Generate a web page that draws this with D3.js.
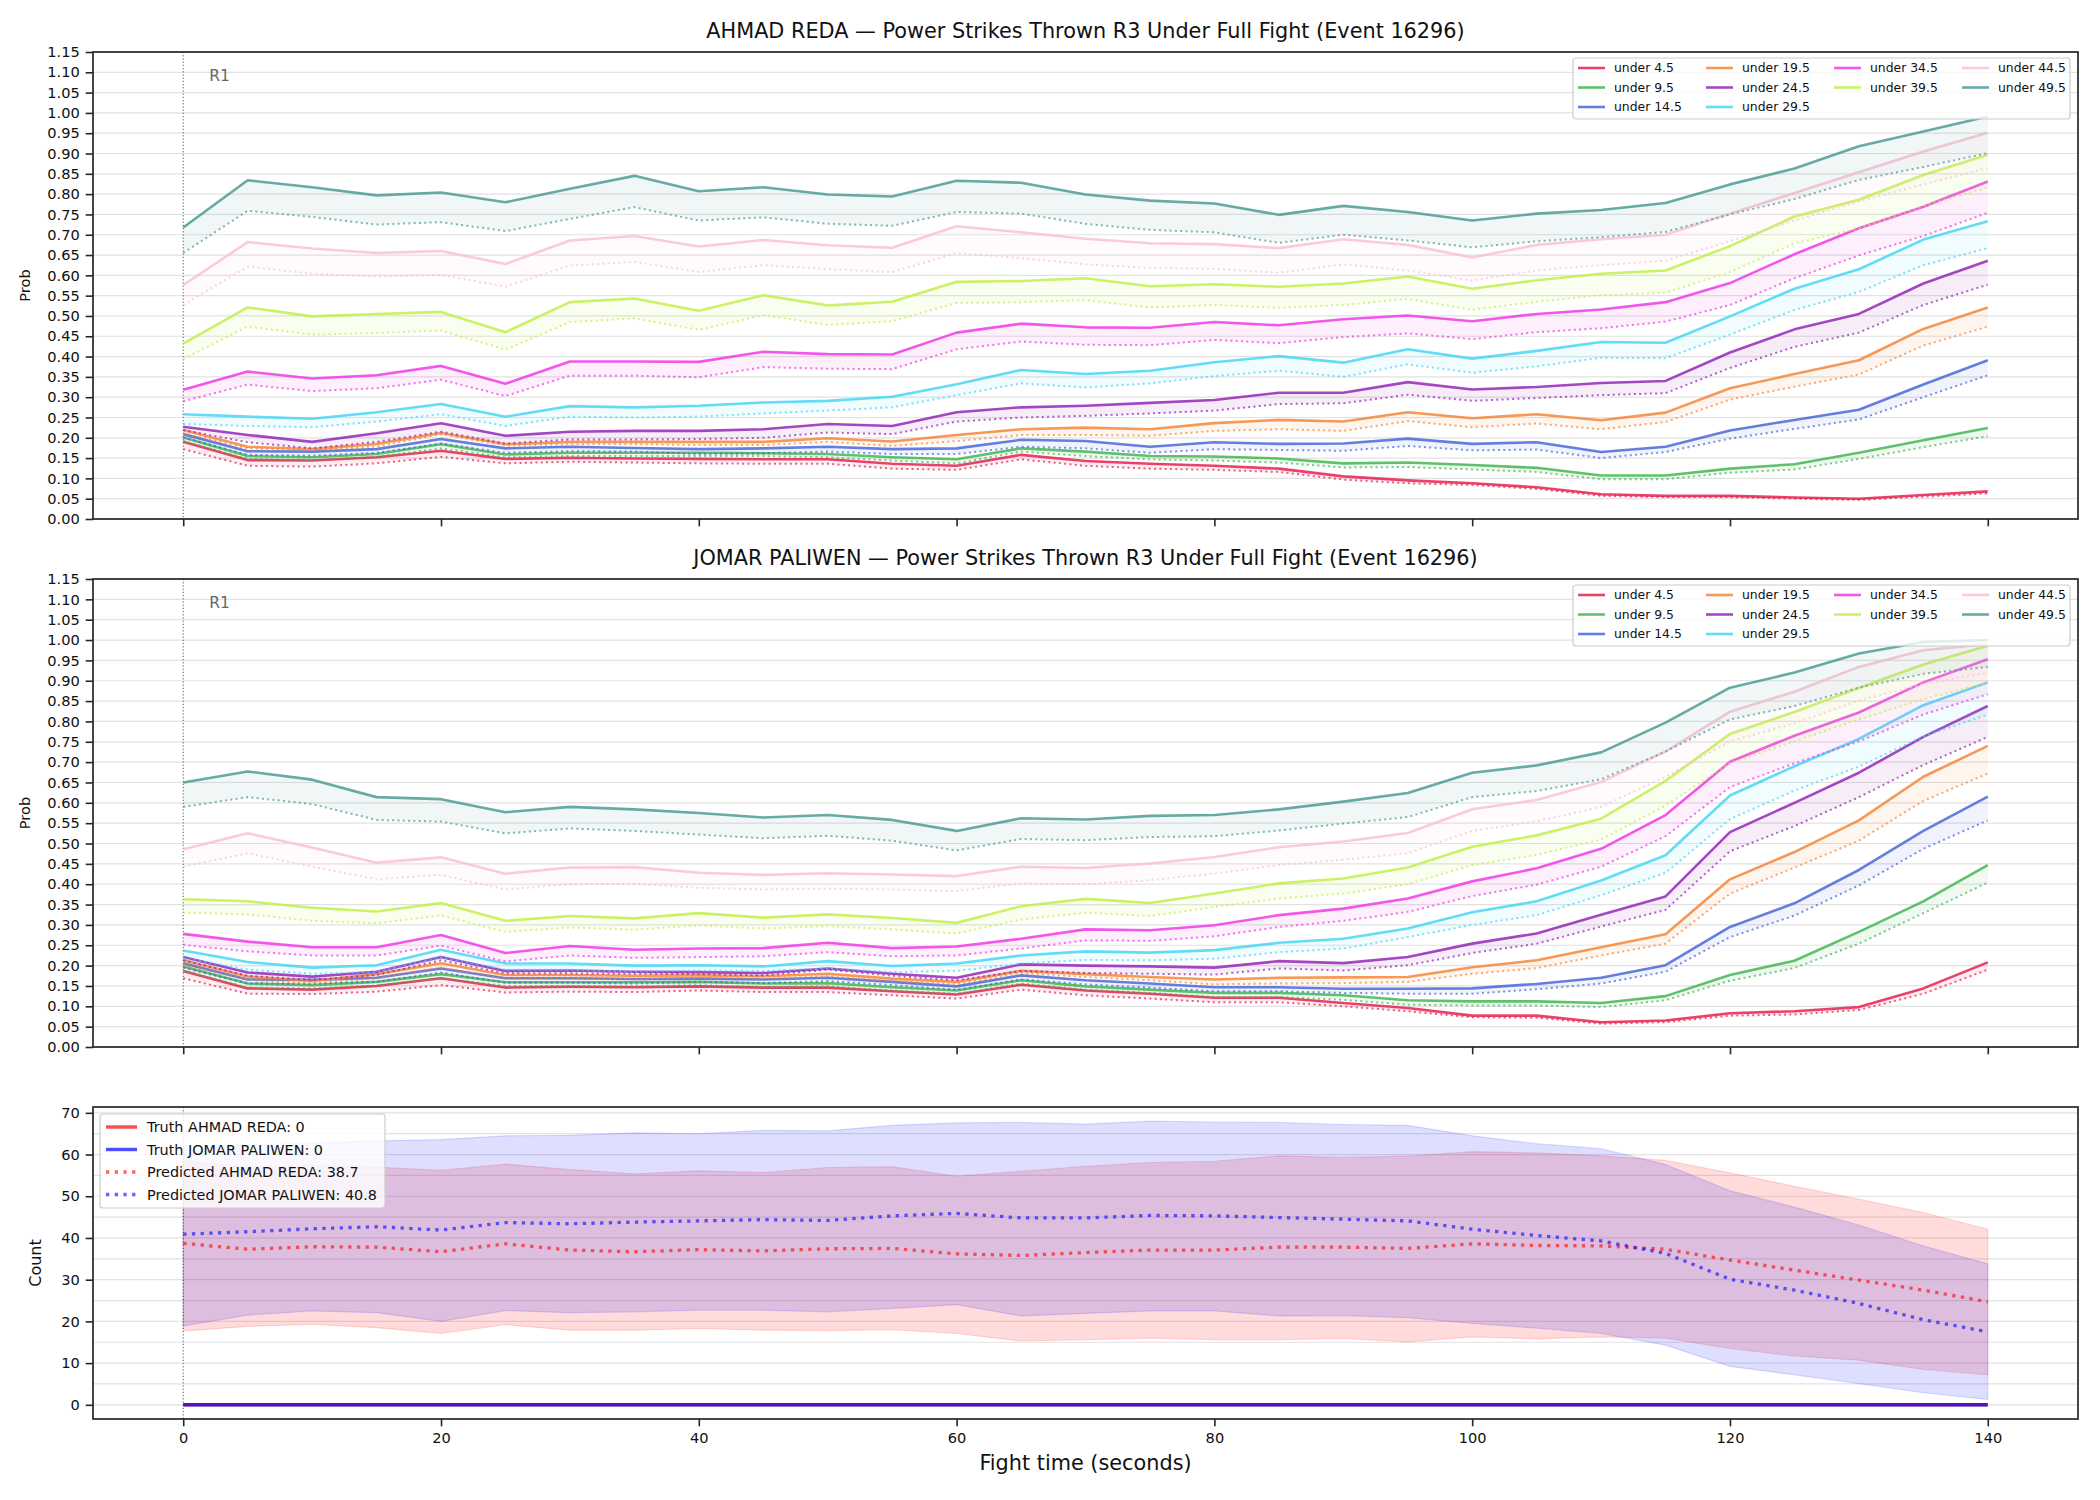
<!DOCTYPE html>
<html><head><meta charset="utf-8">
<script src="https://cdn.jsdelivr.net/npm/d3@7"></script>
<style>body{margin:0;background:#fff} svg{display:block} text{font-family:"DejaVu Sans",sans-serif}</style>
</head><body><svg id="chart" width="2100" height="1500"></svg>
<script>
// ---------------- DATA ----------------
const times = [0,5,10,15,20,25,30,35,40,45,50,55,60,65,70,75,80,85,90,95,100,105,110,115,120,125,130,135,140];
const thresholds = ["under 4.5","under 9.5","under 14.5","under 19.5","under 24.5","under 29.5","under 34.5","under 39.5","under 44.5","under 49.5"];
const thresholdColors = ["#e6194b","#3cb44b","#4363d8","#f58231","#911eb4","#42d4f4","#f032e6","#bfef45","#fabed4","#469990"];
const probTicks = [0,0.05,0.10,0.15,0.20,0.25,0.30,0.35,0.40,0.45,0.50,0.55,0.60,0.65,0.70,0.75,0.80,0.85,0.90,0.95,1.00,1.05,1.10,1.15];
const timeTicks = [0,20,40,60,80,100,120,140];
const countTicks = [0,10,20,30,40,50,60,70];
const countGrid = [0,5,10,15,20,25,30,35,40,45,50,55,60,65,70];

// AHMAD REDA — solid lines
const redaSolid_u4_5  = [0.190,0.145,0.144,0.152,0.168,0.148,0.151,0.149,0.148,0.147,0.147,0.136,0.131,0.158,0.143,0.136,0.131,0.124,0.105,0.095,0.088,0.078,0.061,0.057,0.057,0.053,0.050,0.059,0.068];
const redaSolid_u9_5  = [0.201,0.155,0.152,0.160,0.184,0.159,0.163,0.163,0.163,0.162,0.160,0.152,0.147,0.174,0.166,0.155,0.154,0.149,0.137,0.139,0.133,0.126,0.107,0.107,0.124,0.135,0.163,0.194,0.224];
const redaSolid_u14_5 = [0.209,0.167,0.166,0.172,0.197,0.174,0.178,0.175,0.172,0.174,0.178,0.172,0.174,0.195,0.192,0.178,0.189,0.185,0.186,0.198,0.185,0.189,0.165,0.178,0.218,0.244,0.269,0.331,0.391];
const redaSolid_u19_5 = [0.219,0.178,0.172,0.185,0.212,0.184,0.190,0.190,0.190,0.190,0.199,0.191,0.207,0.221,0.225,0.221,0.236,0.244,0.240,0.263,0.248,0.258,0.243,0.262,0.322,0.357,0.391,0.468,0.521];
const redaSolid_u24_5 = [0.227,0.207,0.190,0.211,0.236,0.205,0.215,0.217,0.217,0.221,0.234,0.229,0.263,0.275,0.279,0.286,0.293,0.311,0.311,0.337,0.319,0.325,0.335,0.340,0.410,0.467,0.505,0.580,0.636];
const redaSolid_u29_5 = [0.258,0.252,0.247,0.263,0.283,0.252,0.278,0.275,0.279,0.287,0.291,0.301,0.332,0.367,0.357,0.365,0.386,0.401,0.385,0.418,0.395,0.414,0.436,0.434,0.499,0.567,0.615,0.688,0.733];
const redaSolid_u34_5 = [0.318,0.363,0.346,0.354,0.377,0.333,0.388,0.388,0.387,0.412,0.406,0.405,0.459,0.481,0.472,0.471,0.485,0.477,0.492,0.501,0.487,0.505,0.516,0.534,0.581,0.652,0.716,0.769,0.831];
const redaSolid_u39_5 = [0.432,0.521,0.499,0.505,0.510,0.460,0.534,0.543,0.513,0.551,0.526,0.535,0.584,0.586,0.593,0.573,0.578,0.572,0.580,0.597,0.567,0.588,0.604,0.612,0.672,0.745,0.786,0.847,0.897];
const redaSolid_u44_5 = [0.576,0.682,0.666,0.655,0.660,0.628,0.686,0.697,0.671,0.687,0.674,0.668,0.721,0.706,0.690,0.679,0.677,0.667,0.689,0.675,0.644,0.675,0.689,0.700,0.752,0.803,0.854,0.905,0.951];
const redaSolid_u49_5 = [0.718,0.834,0.817,0.797,0.804,0.780,0.813,0.845,0.807,0.817,0.799,0.794,0.833,0.828,0.799,0.784,0.777,0.749,0.771,0.756,0.735,0.752,0.761,0.778,0.824,0.863,0.918,0.954,0.991];
// AHMAD REDA — dotted lines
const redaDotted_u4_5  = [0.172,0.131,0.129,0.137,0.153,0.137,0.141,0.139,0.137,0.136,0.136,0.124,0.121,0.147,0.131,0.124,0.121,0.116,0.097,0.088,0.084,0.074,0.057,0.054,0.054,0.050,0.047,0.055,0.063];
const redaDotted_u9_5  = [0.192,0.148,0.145,0.153,0.174,0.152,0.155,0.155,0.155,0.155,0.152,0.144,0.137,0.166,0.155,0.147,0.144,0.139,0.127,0.128,0.122,0.116,0.098,0.098,0.114,0.122,0.148,0.177,0.204];
const redaDotted_u14_5 = [0.201,0.158,0.156,0.163,0.186,0.163,0.167,0.166,0.160,0.162,0.166,0.160,0.160,0.178,0.174,0.163,0.172,0.170,0.168,0.180,0.169,0.171,0.150,0.165,0.198,0.222,0.245,0.300,0.354];
const redaDotted_u19_5 = [0.211,0.174,0.170,0.178,0.209,0.181,0.184,0.184,0.182,0.182,0.190,0.180,0.192,0.207,0.207,0.205,0.217,0.221,0.217,0.241,0.226,0.235,0.221,0.239,0.294,0.326,0.356,0.427,0.474];
const redaDotted_u24_5 = [0.219,0.189,0.174,0.190,0.215,0.186,0.196,0.196,0.197,0.200,0.213,0.209,0.240,0.250,0.254,0.260,0.267,0.283,0.285,0.306,0.291,0.298,0.305,0.310,0.372,0.424,0.459,0.527,0.577];
const redaDotted_u29_5 = [0.234,0.229,0.226,0.240,0.258,0.229,0.252,0.250,0.252,0.260,0.267,0.275,0.305,0.334,0.324,0.334,0.352,0.365,0.350,0.381,0.360,0.376,0.397,0.396,0.454,0.515,0.559,0.625,0.667];
const redaDotted_u34_5 = [0.290,0.331,0.315,0.322,0.343,0.303,0.353,0.353,0.349,0.374,0.370,0.369,0.418,0.437,0.429,0.428,0.441,0.433,0.448,0.457,0.443,0.460,0.470,0.486,0.527,0.593,0.649,0.697,0.754];
const redaDotted_u39_5 = [0.394,0.474,0.454,0.458,0.464,0.417,0.485,0.494,0.466,0.502,0.478,0.487,0.532,0.534,0.539,0.521,0.527,0.520,0.527,0.542,0.515,0.535,0.551,0.557,0.608,0.679,0.715,0.771,0.817];
const redaDotted_u44_5 = [0.527,0.621,0.604,0.597,0.601,0.572,0.624,0.633,0.608,0.625,0.615,0.608,0.655,0.642,0.627,0.618,0.616,0.606,0.627,0.612,0.587,0.612,0.625,0.636,0.684,0.735,0.782,0.824,0.864];
const redaDotted_u49_5 = [0.655,0.759,0.744,0.725,0.731,0.709,0.739,0.768,0.735,0.743,0.727,0.722,0.756,0.752,0.727,0.712,0.706,0.680,0.700,0.686,0.669,0.684,0.694,0.707,0.750,0.788,0.835,0.867,0.901];

// JOMAR PALIWEN — solid lines
const jomarSolid_u4_5  = [0.187,0.144,0.141,0.150,0.169,0.146,0.148,0.147,0.149,0.146,0.146,0.137,0.129,0.153,0.139,0.131,0.121,0.121,0.108,0.096,0.077,0.077,0.061,0.065,0.083,0.088,0.098,0.144,0.208];
const jomarSolid_u9_5  = [0.198,0.156,0.152,0.160,0.179,0.159,0.159,0.159,0.160,0.156,0.157,0.147,0.139,0.164,0.149,0.141,0.133,0.133,0.127,0.115,0.112,0.112,0.108,0.125,0.177,0.212,0.283,0.358,0.447];
const jomarSolid_u14_5 = [0.206,0.166,0.165,0.170,0.193,0.169,0.169,0.167,0.168,0.166,0.170,0.160,0.149,0.176,0.164,0.156,0.147,0.147,0.143,0.143,0.144,0.155,0.170,0.201,0.295,0.353,0.435,0.531,0.615];
const jomarSolid_u19_5 = [0.213,0.173,0.162,0.179,0.206,0.177,0.177,0.175,0.176,0.174,0.180,0.168,0.160,0.187,0.179,0.172,0.166,0.170,0.171,0.172,0.196,0.213,0.245,0.277,0.412,0.479,0.557,0.664,0.740];
const jomarSolid_u24_5 = [0.221,0.183,0.173,0.185,0.221,0.187,0.188,0.185,0.184,0.182,0.193,0.180,0.170,0.203,0.200,0.198,0.195,0.211,0.206,0.221,0.254,0.279,0.325,0.370,0.528,0.600,0.674,0.762,0.838];
const jomarSolid_u29_5 = [0.237,0.209,0.195,0.201,0.239,0.205,0.205,0.200,0.201,0.198,0.211,0.199,0.205,0.225,0.235,0.232,0.238,0.256,0.266,0.291,0.331,0.358,0.409,0.471,0.618,0.690,0.757,0.840,0.896];
const jomarSolid_u34_5 = [0.278,0.259,0.245,0.245,0.275,0.231,0.248,0.239,0.242,0.243,0.256,0.243,0.247,0.266,0.289,0.287,0.299,0.324,0.340,0.365,0.407,0.439,0.487,0.570,0.701,0.765,0.822,0.896,0.953];
const jomarSolid_u39_5 = [0.363,0.358,0.342,0.333,0.354,0.310,0.322,0.316,0.329,0.318,0.326,0.317,0.305,0.346,0.364,0.354,0.377,0.402,0.414,0.441,0.492,0.520,0.561,0.654,0.769,0.823,0.882,0.940,0.986];
const jomarSolid_u44_5 = [0.486,0.525,0.490,0.453,0.466,0.426,0.441,0.442,0.428,0.423,0.427,0.424,0.420,0.443,0.440,0.451,0.467,0.491,0.505,0.526,0.584,0.607,0.651,0.726,0.824,0.873,0.934,0.975,0.990];
const jomarSolid_u49_5 = [0.650,0.677,0.657,0.614,0.609,0.577,0.590,0.584,0.575,0.564,0.570,0.558,0.531,0.562,0.559,0.568,0.570,0.584,0.603,0.624,0.674,0.692,0.724,0.797,0.883,0.920,0.967,0.995,1.000];
// JOMAR PALIWEN — dotted lines
const jomarDotted_u4_5  = [0.169,0.131,0.130,0.136,0.152,0.134,0.136,0.135,0.139,0.135,0.135,0.127,0.119,0.141,0.127,0.119,0.110,0.110,0.100,0.088,0.073,0.072,0.057,0.061,0.077,0.080,0.091,0.131,0.190];
const jomarDotted_u9_5  = [0.188,0.146,0.144,0.151,0.169,0.150,0.150,0.149,0.152,0.147,0.149,0.139,0.131,0.156,0.141,0.133,0.123,0.123,0.116,0.104,0.102,0.102,0.098,0.115,0.163,0.194,0.254,0.329,0.404];
const jomarDotted_u14_5 = [0.195,0.156,0.155,0.160,0.183,0.158,0.158,0.156,0.160,0.157,0.162,0.152,0.141,0.166,0.154,0.146,0.137,0.137,0.133,0.131,0.131,0.142,0.156,0.185,0.270,0.323,0.397,0.487,0.557];
const jomarDotted_u19_5 = [0.202,0.165,0.156,0.169,0.195,0.169,0.169,0.166,0.170,0.168,0.174,0.162,0.154,0.182,0.172,0.164,0.154,0.156,0.157,0.160,0.180,0.194,0.225,0.254,0.377,0.441,0.507,0.605,0.672];
const jomarDotted_u24_5 = [0.213,0.175,0.165,0.177,0.213,0.181,0.181,0.180,0.179,0.176,0.190,0.175,0.164,0.187,0.182,0.180,0.178,0.193,0.188,0.201,0.231,0.254,0.296,0.337,0.481,0.543,0.614,0.693,0.762];
const jomarDotted_u29_5 = [0.219,0.190,0.180,0.184,0.220,0.190,0.190,0.185,0.188,0.187,0.193,0.184,0.187,0.205,0.214,0.213,0.217,0.233,0.242,0.270,0.300,0.324,0.373,0.428,0.560,0.630,0.689,0.763,0.817];
const jomarDotted_u34_5 = [0.251,0.235,0.225,0.225,0.249,0.210,0.225,0.219,0.221,0.223,0.233,0.223,0.225,0.242,0.262,0.261,0.272,0.295,0.310,0.332,0.371,0.399,0.443,0.518,0.639,0.697,0.751,0.817,0.867];
const jomarDotted_u39_5 = [0.330,0.326,0.310,0.304,0.323,0.283,0.294,0.288,0.299,0.291,0.297,0.289,0.279,0.313,0.330,0.322,0.344,0.365,0.377,0.400,0.447,0.472,0.510,0.593,0.698,0.751,0.805,0.855,0.895];
const jomarDotted_u44_5 = [0.443,0.476,0.443,0.412,0.423,0.387,0.400,0.401,0.391,0.387,0.389,0.387,0.383,0.402,0.400,0.410,0.426,0.447,0.460,0.476,0.531,0.554,0.590,0.664,0.751,0.795,0.851,0.892,0.920];
const jomarDotted_u49_5 = [0.590,0.614,0.597,0.558,0.554,0.525,0.537,0.531,0.522,0.513,0.519,0.507,0.483,0.511,0.508,0.516,0.518,0.532,0.549,0.565,0.614,0.629,0.658,0.726,0.805,0.838,0.883,0.917,0.934];

// Count panel
const truthReda  = [0,0,0,0,0,0,0,0,0,0,0,0,0,0,0,0,0,0,0,0,0,0,0,0,0,0,0,0,0];
const truthJomar = [0,0,0,0,0,0,0,0,0,0,0,0,0,0,0,0,0,0,0,0,0,0,0,0,0,0,0,0,0];
const predReda   = [38.7,37.3,37.9,37.8,36.7,38.6,37.1,36.7,37.2,36.9,37.4,37.5,36.2,35.8,36.5,37.1,37.1,37.8,37.8,37.5,38.6,38.2,38.1,37.3,34.7,32.3,29.9,27.5,24.7];
const redaUpper  = [58.5,57.0,57.5,57.0,56.2,57.7,56.4,55.4,56.1,55.7,56.9,57.1,54.8,56.0,57.2,58.1,58.4,59.7,59.3,59.6,60.7,60.4,59.7,58.6,55.6,52.4,49.3,46.1,42.1];
const redaLower  = [17.7,18.8,19.3,18.5,17.1,19.2,17.9,17.9,18.3,17.9,17.8,18.0,17.1,15.3,15.6,16.0,15.6,15.6,15.9,15.1,16.3,15.8,16.3,16.0,13.5,11.7,10.7,8.5,7.2];
const predJomar  = [40.9,41.5,42.2,42.7,41.9,43.7,43.4,43.8,44.1,44.4,44.2,45.3,45.9,44.8,44.8,45.4,45.3,44.9,44.5,44.1,42.1,40.6,39.3,36.3,30.1,27.5,24.3,20.4,17.5];
const jomarUpper = [61.0,62.3,62.8,63.3,63.6,64.5,64.6,65.2,65.0,65.8,65.7,67.0,67.6,67.7,67.3,68.0,67.8,67.7,67.2,67.0,64.5,62.6,61.4,57.6,51.3,47.4,43.1,38.1,33.8];
const jomarLower = [18.9,21.5,22.5,22.1,20.0,22.6,22.1,22.3,22.7,22.7,22.3,23.1,24.0,21.3,21.9,22.5,22.5,21.3,21.4,20.9,19.5,18.4,17.1,14.3,9.2,7.2,5.1,2.9,1.3];
const countLegend = ["Truth AHMAD REDA: 0","Truth JOMAR PALIWEN: 0","Predicted AHMAD REDA: 38.7","Predicted JOMAR PALIWEN: 40.8"];

const redaSolid  = [redaSolid_u4_5,redaSolid_u9_5,redaSolid_u14_5,redaSolid_u19_5,redaSolid_u24_5,redaSolid_u29_5,redaSolid_u34_5,redaSolid_u39_5,redaSolid_u44_5,redaSolid_u49_5];
const redaDotted = [redaDotted_u4_5,redaDotted_u9_5,redaDotted_u14_5,redaDotted_u19_5,redaDotted_u24_5,redaDotted_u29_5,redaDotted_u34_5,redaDotted_u39_5,redaDotted_u44_5,redaDotted_u49_5];
const jomarSolid  = [jomarSolid_u4_5,jomarSolid_u9_5,jomarSolid_u14_5,jomarSolid_u19_5,jomarSolid_u24_5,jomarSolid_u29_5,jomarSolid_u34_5,jomarSolid_u39_5,jomarSolid_u44_5,jomarSolid_u49_5];
const jomarDotted = [jomarDotted_u4_5,jomarDotted_u9_5,jomarDotted_u14_5,jomarDotted_u19_5,jomarDotted_u24_5,jomarDotted_u29_5,jomarDotted_u34_5,jomarDotted_u39_5,jomarDotted_u44_5,jomarDotted_u49_5];

// ---------------- DRAW ----------------
const svg = d3.select("#chart");
const L = 93, R = 2078, CX = (L + R) / 2;
const x = d3.scaleLinear().domain([-7, 147]).range([L, R]);
const FRAME = "#262626";

function styleAxis(g) {
  g.select(".domain").remove();
  g.selectAll(".tick line").attr("stroke", FRAME).attr("stroke-width", 1.6);
  g.selectAll(".tick text").attr("fill", "#111").attr("font-size", 14.6).attr("font-family", "DejaVu Sans");
}

function frame(top, bottom) {
  svg.append("rect").attr("x", L).attr("y", top).attr("width", R - L).attr("height", bottom - top)
    .attr("fill", "none").attr("stroke", FRAME).attr("stroke-width", 1.7);
}

function probPanel(top, bottom, title, solids, dots) {
  const y = d3.scaleLinear().domain([0, 1.15]).range([bottom, top]);
  const g = svg.append("g");
  g.selectAll("line.grid").data(probTicks).join("line").attr("class", "grid")
    .attr("x1", L).attr("x2", R).attr("y1", d => y(d)).attr("y2", d => y(d))
    .attr("stroke", "#e2e2e2").attr("stroke-width", 1.2);
  g.append("line").attr("x1", x(0)).attr("x2", x(0)).attr("y1", top).attr("y2", bottom)
    .attr("stroke", "#555").attr("stroke-width", 1).attr("stroke-dasharray", "1.2,2");
  g.append("text").attr("x", x(0) + 26).attr("y", top + 29).attr("fill", "#666")
    .attr("font-size", 15.5).text("R1");

  thresholds.forEach((lab, i) => {
    const col = thresholdColors[i];
    const s = solids[i], d = dots[i];
    const area = d3.area().x((v, j) => x(times[j])).y0((v, j) => y(d[j])).y1(v => y(v));
    g.append("path").datum(s).attr("d", area).attr("fill", col).attr("fill-opacity", 0.08).attr("stroke", "none");
    const line = d3.line().x((v, j) => x(times[j])).y(v => y(v));
    g.append("path").datum(s).attr("d", line).attr("fill", "none").attr("stroke", col)
      .attr("stroke-width", 2.6).attr("stroke-opacity", 0.82).attr("stroke-linejoin", "round");
    g.append("path").datum(d).attr("d", line).attr("fill", "none").attr("stroke", col)
      .attr("stroke-width", 2).attr("stroke-opacity", 0.7).attr("stroke-dasharray", "2,3.3");
  });

  const ya = svg.append("g").attr("transform", `translate(${L},0)`)
    .call(d3.axisLeft(y).tickValues(probTicks).tickFormat(d3.format(".2f")).tickSize(7.3).tickPadding(6));
  styleAxis(ya);
  const xa = svg.append("g").attr("transform", `translate(0,${bottom})`)
    .call(d3.axisBottom(x).tickValues(timeTicks).tickFormat("").tickSize(7.3));
  styleAxis(xa);
  frame(top, bottom);

  svg.append("text").attr("x", CX).attr("y", top - 14).attr("text-anchor", "middle")
    .attr("font-size", 20.8).attr("fill", "#111").text(title);
  svg.append("text").attr("transform", `translate(30,${(top + bottom) / 2}) rotate(-90)`)
    .attr("text-anchor", "middle").attr("font-size", 14.6).attr("fill", "#111").text("Prob");

  // legend: 4 columns, items filled column-wise as 3,3,2,2
  const lx = 1573, ly = top + 6, lw = 497, lh = 61;
  const lg = svg.append("g");
  lg.append("rect").attr("x", lx).attr("y", ly).attr("width", lw).attr("height", lh).attr("rx", 3)
    .attr("fill", "#fff").attr("fill-opacity", 0.8).attr("stroke", "#cccccc").attr("stroke-width", 1.2);
  const colOff = [5, 133, 261, 389];
  const rowOff = [16, 35.5, 55];
  const colOf = [0,0,0,1,1,1,2,2,3,3];
  const rowOf = [0,1,2,0,1,2,0,1,0,1];
  thresholds.forEach((lab, i) => {
    const c = colOf[i], r = rowOf[i];
    const yy = ly + rowOff[r] - 6;
    lg.append("line").attr("x1", lx + colOff[c]).attr("x2", lx + colOff[c] + 27).attr("y1", yy).attr("y2", yy)
      .attr("stroke", thresholdColors[i]).attr("stroke-width", 2.6).attr("stroke-opacity", 0.82);
    lg.append("text").attr("x", lx + colOff[c] + 36).attr("y", yy + 4.4).attr("font-size", 12.4)
      .attr("fill", "#111").text(lab);
  });
}

probPanel(52, 519, "AHMAD REDA — Power Strikes Thrown R3 Under Full Fight (Event 16296)", redaSolid, redaDotted);
probPanel(579, 1047, "JOMAR PALIWEN — Power Strikes Thrown R3 Under Full Fight (Event 16296)", jomarSolid, jomarDotted);

// ---- Count panel ----
(function () {
  const top = 1107, bottom = 1419;
  const allVals = [].concat(redaUpper, redaLower, jomarUpper, jomarLower, predReda, predJomar, truthReda, truthJomar);
  const lo = d3.min(allVals), hi = d3.max(allVals), pad = (hi - lo) * 0.05;
  const y = d3.scaleLinear().domain([lo - pad, hi + pad]).range([bottom, top]);
  const g = svg.append("g");
  g.selectAll("line.grid").data(countGrid).join("line")
    .attr("x1", L).attr("x2", R).attr("y1", d => y(d)).attr("y2", d => y(d))
    .attr("stroke", "#e2e2e2").attr("stroke-width", 1.2);
  g.append("line").attr("x1", x(0)).attr("x2", x(0)).attr("y1", top).attr("y2", bottom)
    .attr("stroke", "#555").attr("stroke-width", 1).attr("stroke-dasharray", "1.2,2");

  function band(upper, lower, col, op) {
    const area = d3.area().x((v, j) => x(times[j])).y0((v, j) => y(lower[j])).y1(v => y(v));
    g.append("path").datum(upper).attr("d", area).attr("fill", col).attr("fill-opacity", op)
      .attr("stroke", col).attr("stroke-opacity", op).attr("stroke-width", 1.2);
  }
  band(redaUpper, redaLower, "#ff0000", 0.14);
  band(jomarUpper, jomarLower, "#0000ff", 0.13);
  const line = d3.line().x((v, j) => x(times[j])).y(v => y(v));
  g.append("path").datum(truthReda).attr("d", line).attr("fill", "none").attr("stroke", "#ff0000")
    .attr("stroke-opacity", 0.7).attr("stroke-width", 3.4);
  g.append("path").datum(truthJomar).attr("d", line).attr("fill", "none").attr("stroke", "#0000ff")
    .attr("stroke-opacity", 0.7).attr("stroke-width", 3.4);
  g.append("path").datum(predReda).attr("d", line).attr("fill", "none").attr("stroke", "#ff0000")
    .attr("stroke-opacity", 0.6).attr("stroke-width", 3.3).attr("stroke-dasharray", "3.3,5.4");
  g.append("path").datum(predJomar).attr("d", line).attr("fill", "none").attr("stroke", "#0000ff")
    .attr("stroke-opacity", 0.6).attr("stroke-width", 3.3).attr("stroke-dasharray", "3.3,5.4");

  const ya = svg.append("g").attr("transform", `translate(${L},0)`)
    .call(d3.axisLeft(y).tickValues(countTicks).tickFormat(d3.format("d")).tickSize(7.3).tickPadding(6));
  styleAxis(ya);
  const xa = svg.append("g").attr("transform", `translate(0,${bottom})`)
    .call(d3.axisBottom(x).tickValues(timeTicks).tickFormat(d3.format("d")).tickSize(7.3).tickPadding(6));
  styleAxis(xa);
  frame(top, bottom);

  svg.append("text").attr("transform", `translate(41,${(top + bottom) / 2}) rotate(-90)`)
    .attr("text-anchor", "middle").attr("font-size", 16).attr("fill", "#111").text("Count");
  svg.append("text").attr("x", CX).attr("y", 1470).attr("text-anchor", "middle")
    .attr("font-size", 20.8).attr("fill", "#111").text("Fight time (seconds)");

  // legend
  const lx = 100, ly = top + 7, lw = 285, lh = 94;
  const lg = svg.append("g");
  lg.append("rect").attr("x", lx).attr("y", ly).attr("width", lw).attr("height", lh).attr("rx", 3)
    .attr("fill", "#fff").attr("fill-opacity", 0.8).attr("stroke", "#cccccc").attr("stroke-width", 1.2);
  const styles = [
    {c: "#ff0000", o: 0.7, dash: null},
    {c: "#0000ff", o: 0.7, dash: null},
    {c: "#ff0000", o: 0.6, dash: "3.3,5.4"},
    {c: "#0000ff", o: 0.6, dash: "3.3,5.4"}
  ];
  countLegend.forEach((lab, i) => {
    const yy = ly + 13 + i * 22.5;
    const ln = lg.append("line").attr("x1", lx + 6).attr("x2", lx + 37).attr("y1", yy).attr("y2", yy)
      .attr("stroke", styles[i].c).attr("stroke-opacity", styles[i].o).attr("stroke-width", 3.4);
    if (styles[i].dash) ln.attr("stroke-dasharray", styles[i].dash);
    lg.append("text").attr("x", lx + 47).attr("y", yy + 5).attr("font-size", 14.4).attr("fill", "#111").text(lab);
  });
})();
</script></body></html>
